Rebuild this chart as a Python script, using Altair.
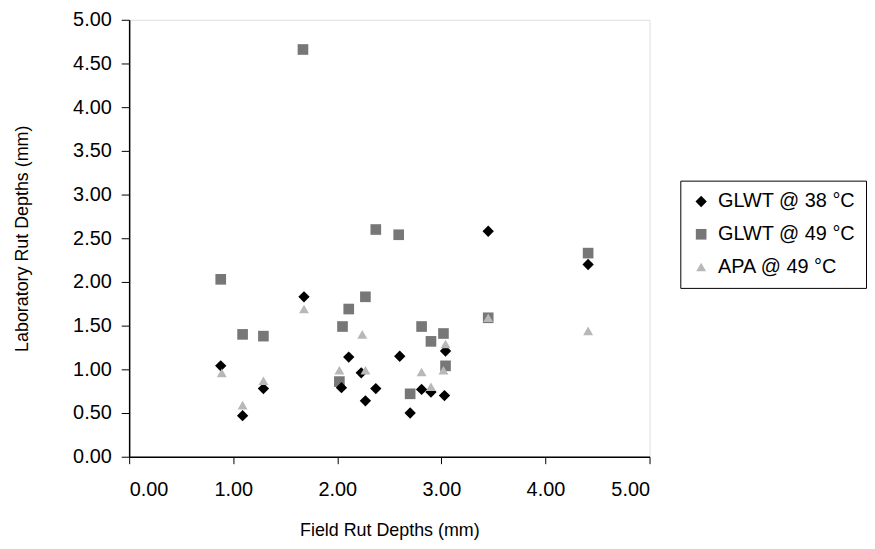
import altair as alt
import pandas as pd

series_names = ["GLWT @ 38 °C", "GLWT @ 49 °C", "APA @ 49 °C"]

glwt38_x = [0.88, 1.09, 1.29, 1.68, 2.04, 2.11, 2.23, 2.27, 2.37, 2.60, 2.70, 2.81, 2.90, 3.03, 3.04, 3.45, 4.41]
glwt38_y = [1.04, 0.47, 0.78, 1.83, 0.79, 1.14, 0.96, 0.64, 0.78, 1.15, 0.50, 0.77, 0.74, 0.70, 1.21, 2.58, 2.20]

glwt49_x = [0.88, 1.09, 1.29, 1.67, 2.02, 2.05, 2.11, 2.27, 2.37, 2.59, 2.70, 2.81, 2.90, 3.02, 3.04, 3.45, 4.41]
glwt49_y = [2.03, 1.40, 1.38, 4.66, 0.86, 1.49, 1.69, 1.83, 2.60, 2.54, 0.72, 1.49, 1.32, 1.41, 1.04, 1.59, 2.33]

apa49_x = [0.89, 1.09, 1.29, 1.68, 2.02, 2.24, 2.27, 2.81, 2.90, 3.02, 3.04, 3.45, 4.41]
apa49_y = [0.96, 0.59, 0.87, 1.69, 0.99, 1.40, 0.99, 0.97, 0.80, 0.99, 1.29, 1.59, 1.44]

x_ticks = [0, 1, 2, 3, 4, 5]
y_ticks = [0, 0.5, 1, 1.5, 2, 2.5, 3, 3.5, 4, 4.5, 5]

rows = []
for name, xs, ys in [(series_names[1], glwt49_x, glwt49_y),
                     (series_names[0], glwt38_x, glwt38_y),
                     (series_names[2], apa49_x, apa49_y)]:
    for xv, yv in zip(xs, ys):
        rows.append({"series": name, "field": xv, "lab": yv})
df = pd.DataFrame(rows)

FONT = "Liberation Sans"

chart = alt.Chart(df).mark_point(filled=True, opacity=1, strokeWidth=0).encode(
    x=alt.X("field:Q", title="Field Rut Depths (mm)",
            scale=alt.Scale(domain=[0, 5], nice=False, zero=False),
            axis=alt.Axis(values=x_ticks, format=".2f", grid=False, tickSize=7,
                          labelPadding=16, titlePadding=22, domainColor="black",
                          tickColor="black", domainWidth=1.5,
                          labelFontSize=20, titleFontSize=18, labelColor="black",
                          titleColor="black", titleFontWeight="normal",
                          labelFont=FONT, titleFont=FONT)),
    y=alt.Y("lab:Q", title="Laboratory Rut Depths (mm)",
            scale=alt.Scale(domain=[0, 5], nice=False, zero=False),
            axis=alt.Axis(values=y_ticks, format=".2f", grid=False, tickSize=8,
                          labelPadding=10, titlePadding=41, domainColor="black",
                          tickColor="black", domainWidth=1.5,
                          labelFontSize=20, titleFontSize=18, labelColor="black",
                          titleColor="black", titleFontWeight="normal",
                          labelFont=FONT, titleFont=FONT)),
    color=alt.Color("series:N",
                    scale=alt.Scale(domain=series_names, range=["#000000", "#777777", "#b8b8b8"]),
                    legend=alt.Legend(title=None, orient="none", legendX=555, legendY=162,
                                      strokeColor="black", padding=11, rowPadding=13,
                                      labelFontSize=20, labelFont=FONT, labelColor="black",
                                      symbolSize=70, labelOffset=7)),
    shape=alt.Shape("series:N",
                    scale=alt.Scale(domain=series_names, range=["diamond", "square", "triangle-up"])),
    size=alt.Size("series:N",
                  scale=alt.Scale(domain=series_names, range=[130, 100, 70]), legend=None),
).properties(
    width=524, height=440,
    padding={"left": 6, "top": 0, "right": 0, "bottom": 0},
).configure_view(stroke="black", strokeWidth=1.5).configure(background="white")

chart.save("out.html", embed_options={"renderer": "svg", "actions": False})
